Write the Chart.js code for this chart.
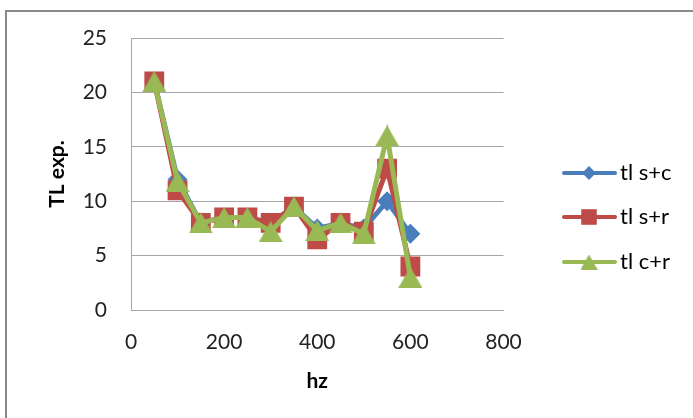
<!DOCTYPE html>
<html>
<head>
<meta charset="utf-8">
<title>TL exp.</title>
<script src="https://cdn.jsdelivr.net/npm/chart.js@4.4.1/dist/chart.umd.min.js"></script>
<style>
  html, body { margin: 0; padding: 0; background: #fff; overflow: hidden; }
  #frame {
    position: absolute; left: 5px; top: 10px;
    width: 800px; height: 500px;
    border-top: 2px solid #8a8a8a; border-left: 2px solid #8a8a8a;
  }
  #wrap { position: absolute; left: 0; top: 0; width: 693px; height: 418px; }
</style>
</head>
<body>
<div id="frame"></div>
<div id="wrap"><canvas id="tlChart" width="693" height="418"></canvas></div>
<script>
// frequencies (hz) and measured TL for each pairing
const freqs = [50, 100, 150, 200, 250, 300, 350, 400, 450, 500, 550, 600];
const tlSC = [21, 12, 8, 8.5, 8.5, 8, 9.5, 7.5, 8, 7.5, 10, 7];
const tlSR = [21, 11, 8, 8.5, 8.5, 8, 9.5, 6.5, 8, 7.2, 13, 4];
const tlCR = [21, 11.8, 8, 8.5, 8.5, 7.2, 9.5, 7.3, 8, 7, 16, 3];

const seriesNames = ["tl s+c", "tl s+r", "tl c+r"];
const xTicks = [0, 200, 400, 600, 800];
const yTicks = [0, 5, 10, 15, 20, 25];

const FONT = "Lato, 'Open Sans', sans-serif";
const GRID = "#a6a6a6";

const toPoints = (ys) => ys.map((y, i) => ({ x: freqs[i], y: y }));

// triangle marker as an image so it sits centred on its box, like the office markers
function triangleImage(w, h, color) {
  const c = document.createElement("canvas");
  c.width = w;
  c.height = h;
  const g = c.getContext("2d");
  g.fillStyle = color;
  g.beginPath();
  g.moveTo(w / 2, 0);
  g.lineTo(w, h);
  g.lineTo(0, h);
  g.closePath();
  g.fill();
  return c;
}

const GREEN = "#98b954";
const styles = [
  { color: "#4a7ebb", pointStyle: "rectRot", radius: 10, legendStyle: "rectRot", legendRadius: 7 },
  { color: "#be4b48", pointStyle: "rect", radius: 14, legendStyle: "rect", legendRadius: 11 },
  { color: GREEN, pointStyle: triangleImage(24, 21, GREEN), radius: 12,
    legendStyle: triangleImage(17, 15, GREEN), legendRadius: 8 },
];

const datasets = [tlSC, tlSR, tlCR].map((ys, i) => ({
  label: seriesNames[i],
  data: toPoints(ys),
  borderColor: styles[i].color,
  backgroundColor: styles[i].color,
  borderWidth: 5,
  pointStyle: styles[i].pointStyle,
  pointRadius: styles[i].radius,
  pointHoverRadius: styles[i].radius,
  pointBorderWidth: 0,
  showLine: true,
  tension: 0,
  order: 2 - i, // later series sit on top
}));

// legend on the right: short line with the marker in the middle
const sideLegend = {
  id: "sideLegend",
  afterDraw(chart) {
    const ctx = chart.ctx;
    const rows = [173, 217, 262];
    ctx.save();
    datasets.forEach((ds, i) => {
      const y = rows[i];
      ctx.strokeStyle = ds.borderColor;
      ctx.lineWidth = 4;
      ctx.lineCap = "round";
      ctx.beginPath();
      ctx.moveTo(564, y);
      ctx.lineTo(615, y);
      ctx.stroke();
      ctx.fillStyle = ds.backgroundColor;
      Chart.helpers.drawPoint(ctx, {
        pointStyle: styles[i].legendStyle,
        radius: styles[i].legendRadius,
        rotation: 0,
        borderWidth: 0,
      }, 589, y);
      ctx.fillStyle = "#000";
      ctx.font = "22px " + FONT;
      ctx.textBaseline = "middle";
      ctx.textAlign = "left";
      ctx.fillText(ds.label, 620, y);
    });
    ctx.restore();
  },
};

new Chart(document.getElementById("tlChart"), {
  type: "scatter",
  data: { datasets: datasets },
  options: {
    responsive: false,
    animation: false,
    events: [],
    layout: { padding: { left: 0, top: 38, right: 189.5, bottom: 0 } },
    plugins: {
      legend: { display: false },
      tooltip: { enabled: false },
    },
    scales: {
      x: {
        type: "linear",
        min: 0,
        max: 800,
        afterBuildTicks: (scale) => { scale.ticks = xTicks.map((v) => ({ value: v })); },
        afterFit: (scale) => { scale.height = 108; },
        grid: { display: false, drawTicks: false },
        border: { display: true, color: GRID, width: 1 },
        ticks: { color: "#222", padding: 20, font: { family: FONT, size: 21 } },
        title: {
          display: true,
          text: "hz",
          color: "#000",
          padding: { top: 0, bottom: 24 },
          font: { family: FONT, size: 21, weight: "bold" },
        },
      },
      y: {
        min: 0,
        max: 25,
        afterBuildTicks: (scale) => { scale.ticks = yTicks.map((v) => ({ value: v })); },
        afterFit: (scale) => { scale.width = 131; },
        grid: { color: GRID, lineWidth: 1, drawTicks: false },
        border: { display: true, color: GRID, width: 1 },
        ticks: { color: "#222", padding: 24, font: { family: FONT, size: 21 } },
        title: {
          display: true,
          text: "TL exp.",
          color: "#000",
          padding: { top: 45, bottom: 0 },
          font: { family: FONT, size: 21, weight: "bold" },
        },
      },
    },
  },
  plugins: [sideLegend],
});
</script>
</body>
</html>
